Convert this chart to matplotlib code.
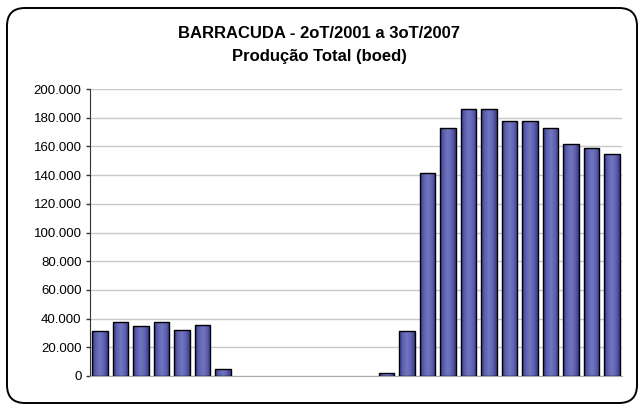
import numpy as np
import matplotlib
matplotlib.use("Agg")
import matplotlib.pyplot as plt
from matplotlib.patches import FancyBboxPatch
from matplotlib.colors import LinearSegmentedColormap
from matplotlib.ticker import FuncFormatter, MultipleLocator

plt.rcParams['font.family'] = ['Liberation Sans', 'DejaVu Sans']

# quarters 2oT/2001 .. 3oT/2007
quarters = ["2T01", "3T01", "4T01",
            "1T02", "2T02", "3T02", "4T02",
            "1T03", "2T03", "3T03", "4T03",
            "1T04", "2T04", "3T04", "4T04",
            "1T05", "2T05", "3T05", "4T05",
            "1T06", "2T06", "3T06", "4T06",
            "1T07", "2T07", "3T07"]
producao = [31400, 37900, 34600, 37900, 32300, 35600, 4700,
            0, 0, 0, 0, 0, 0, 0,
            2400, 31400, 141400, 172500, 185800, 185800,
            178000, 178000, 172500, 161400, 159200, 154800]

titulo = "BARRACUDA - 2oT/2001 a 3oT/2007\nProdução Total (boed)"

fig = plt.figure(figsize=(6.39, 4.05), dpi=100)
fig.patch.set_facecolor("white")

# rounded frame around the whole chart (pixel coords)
frame = FancyBboxPatch((7, 2), 630, 395, boxstyle="round,pad=0,rounding_size=18",
                       transform=None, facecolor="none", edgecolor="black",
                       linewidth=1.4, zorder=5)
fig.add_artist(frame)

ax = fig.add_axes([90/639, 1-376/405, 532/639, 287/405])
ax.set_facecolor("none")

x = np.arange(len(quarters))
bars = ax.bar(x, producao, width=0.76, color="#5659A8", linewidth=0, zorder=3)

# shaded fill like the excel bars
cmap = LinearSegmentedColormap.from_list("barra", ["#36398c", "#5f63b0", "#7276c0", "#5f63b0", "#36398c"])
grad = np.linspace(0, 1, 64).reshape(1, -1)
for b in bars:
    h = b.get_height()
    if h <= 0:
        continue
    im = ax.imshow(grad, extent=(b.get_x(), b.get_x() + b.get_width(), 0, h),
                   cmap=cmap, aspect="auto", zorder=3.5)
    im.set_clip_path(b)
    ax.bar(b.get_x() + b.get_width()/2, h, width=b.get_width(), fill=False,
           edgecolor="black", linewidth=1.0, zorder=4)

ax.set_xlim(-0.5, len(quarters) - 0.5)
ax.set_ylim(0, 200000)
ax.yaxis.set_major_locator(MultipleLocator(20000))
ax.yaxis.set_major_formatter(FuncFormatter(lambda v, p: f"{int(v):,}".replace(",", ".")))
ax.set_xticks([])
ax.grid(axis="y", color="#c8c8c8", linewidth=1.0, zorder=0)

for s in ["top", "right"]:
    ax.spines[s].set_visible(False)
ax.spines["left"].set_color("#333333")
ax.spines["bottom"].set_color("#aaaaaa")
ax.tick_params(axis="y", length=3, width=1, color="#333333", labelsize=9.5, pad=3)

fig.text(0.5, 1-45/405, titulo, ha="center", va="center", fontsize=12,
         fontweight="bold", linespacing=1.6)

fig.savefig("out.png", dpi=100)
